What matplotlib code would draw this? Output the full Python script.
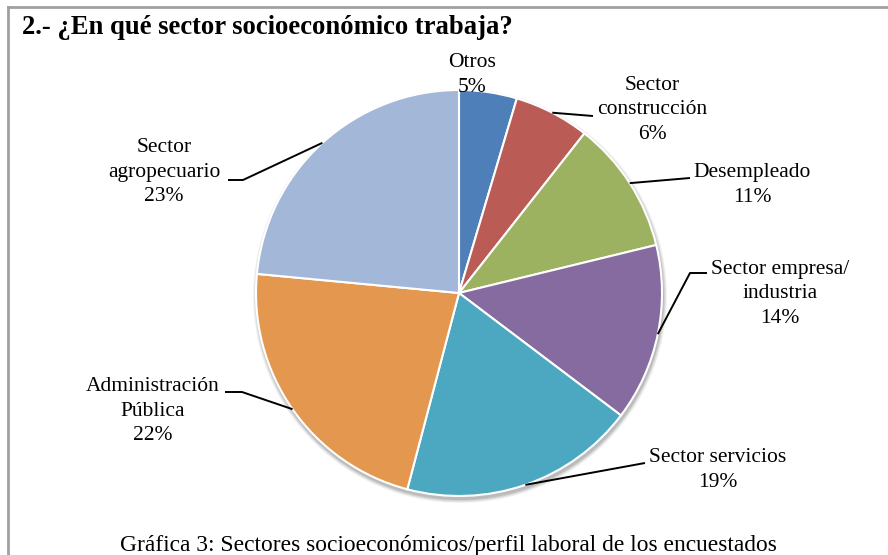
import numpy as np
import matplotlib
matplotlib.use("Agg")
import matplotlib.pyplot as plt
from matplotlib.patches import Circle
from matplotlib.lines import Line2D

# ---------------- data ----------------
categories = ["Otros", "Sector\nconstrucción", "Desempleado", "Sector empresa/\nindustria",
              "Sector servicios", "Administración\nPública", "Sector\nagropecuario"]
values = [4.6, 6.0, 10.6, 14.1, 18.8, 22.4, 23.5]
pct_labels = ["5%", "6%", "11%", "14%", "19%", "22%", "23%"]
colors = ["#4F7FB8", "#BA5B55", "#9CB260", "#856BA0", "#4CA8C1", "#E3974F", "#A3B7D9"]

title = "2.- ¿En qué sector socioeconómico trabaja?"
caption = "Gráfica 3: Sectores socioeconómicos/perfil laboral de los encuestados"

# ---------------- layout (pixel coordinates, y from top) ----------------
W, H = 888, 555
CX, CY, R = 459, 293, 203
label_pos = [(472, 75), (652, 110), (752, 185), (780, 294), (718, 470), (153, 411), (164, 172)]
leader_pts = [None,
              [(593, 116)],
              [(690, 178)],
              [(690, 273), (707, 273)],
              [(645, 463)],
              [(242, 392), (225, 392)],
              [(243, 180), (228, 180)]]

def fy(y):
    return H - y

plt.rcParams['font.family'] = ['Liberation Serif', 'DejaVu Serif']

fig = plt.figure(figsize=(W / 100, H / 100), dpi=100)
ax = fig.add_axes([0, 0, 1, 1])
ax.set_xlim(0, W)
ax.set_ylim(0, H)
ax.axis('off')

# soft shadow
for k, a in enumerate([0.05, 0.06, 0.08, 0.10]):
    ax.add_patch(Circle((CX + 1, fy(CY) - 3), R + 4 - k, facecolor='black', alpha=a,
                        edgecolor='none', zorder=0))

wedges, _ = ax.pie(values, colors=colors, startangle=90, counterclock=False,
                   center=(CX, fy(CY)), radius=R,
                   wedgeprops=dict(edgecolor='white', linewidth=1.5))
for w in wedges:
    w.set_zorder(1)
ax.set_xlim(0, W)
ax.set_ylim(0, H)
ax.set_aspect('auto')

# labels and leader lines
total = sum(values)
cum = 0.0
for i, v in enumerate(values):
    mid = (cum + v / 2) / total * 360.0  # degrees clockwise from top
    cum += v
    ax_x = CX + R * np.sin(np.radians(mid))
    ax_y = CY - R * np.cos(np.radians(mid))
    tx, ty = label_pos[i]
    ax.text(tx, fy(ty), categories[i] + "\n" + pct_labels[i], ha='center', va='center',
            multialignment='center', fontsize=15.5, linespacing=1.38, color='black', zorder=3)
    if leader_pts[i] is not None:
        xs = [ax_x] + [p[0] for p in leader_pts[i]]
        ys = [fy(ax_y)] + [fy(p[1]) for p in leader_pts[i]]
        ax.plot(xs, ys, color='black', lw=1.4, zorder=2, solid_capstyle='butt')

# title and caption
ax.text(22, fy(27), title, ha='left', va='center', fontsize=19.2, fontweight='bold', color='black')
ax.text(448, fy(546), caption, ha='center', va='center', fontsize=16.9, color='black')

# border (top and left visible)
fig.add_artist(Line2D([8 / W, 1.0], [fy(7) / H, fy(7) / H], color='#A0A0A0', lw=2))
fig.add_artist(Line2D([8 / W, 8 / W], [0, fy(7) / H], color='#A0A0A0', lw=2))

fig.savefig("out.png", dpi=100)
